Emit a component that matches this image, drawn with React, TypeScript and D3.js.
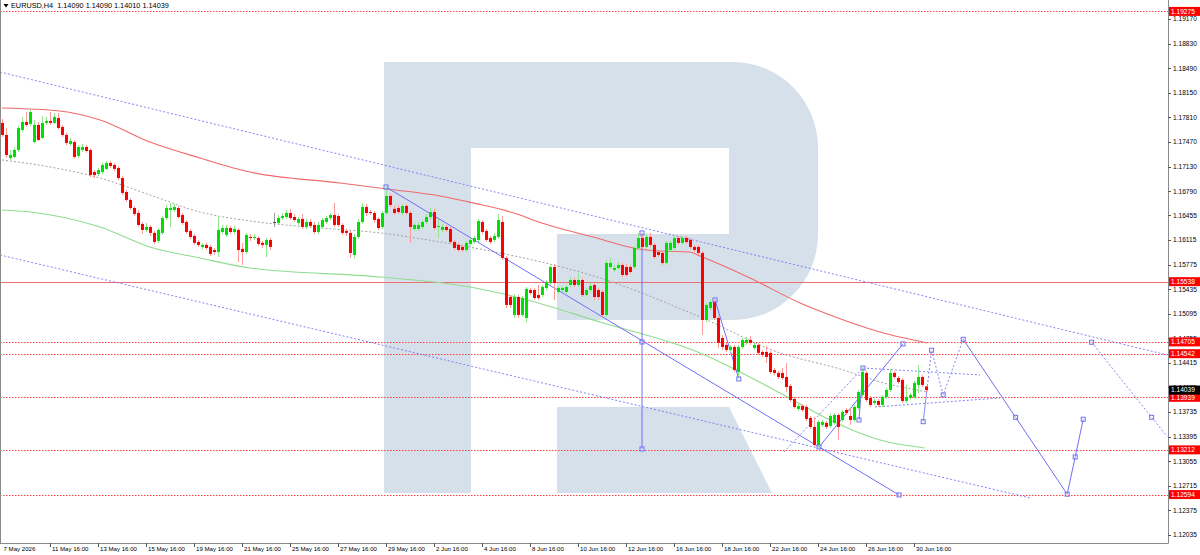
import React from "react";
import * as d3 from "d3";

// ---------- DATA ----------
const symbol = "EURUSD,H4";

const opens = [
1.17733,1.17567,1.17248,1.17262,1.17359,1.17636,1.17746,1.17719,1.17469,1.17705,
1.17525,1.17733,1.17760,1.17733,1.17801,1.17677,1.17567,1.17442,1.17469,1.17276,
1.17359,1.17400,1.17359,1.17054,1.17027,1.17054,1.17097,1.17180,1.17152,1.17110,
1.16971,1.16778,1.16668,1.16557,1.16488,1.16336,1.16253,1.16294,1.16212,1.16101,
1.16212,1.16418,1.16529,1.16529,1.16557,1.16460,1.16363,1.16239,1.16170,1.16087,
1.16018,1.16046,1.16018,1.15976,1.15948,1.16225,1.16184,1.16280,1.16225,1.16253,
1.15991,1.15948,1.16156,1.16142,1.16142,1.16074,1.16046,1.16115,1.16363,1.16350,
1.16418,1.16432,1.16488,1.16432,1.16350,1.16405,1.16294,1.16363,1.16322,1.16225,
1.16294,1.16363,1.16418,1.16460,1.16446,1.16322,1.16239,1.16212,1.15907,1.16156,
1.16363,1.16571,1.16501,1.16488,1.16405,1.16294,1.16488,1.16723,1.16544,1.16557,
1.16488,1.16585,1.16488,1.16267,1.16267,1.16294,1.16363,1.16432,1.16501,1.16294,
1.16253,1.16294,1.16267,1.16087,1.16046,1.16018,1.15976,1.16060,1.16087,1.16115,
1.16363,1.16239,1.16142,1.16115,1.16156,1.16363,1.15865,1.15326,1.15078,1.15326,
1.15078,1.15036,1.15423,1.15423,1.15354,1.15354,1.15450,1.15520,1.15741,1.15395,
1.15423,1.15395,1.15492,1.15561,1.15492,1.15561,1.15354,1.15423,1.15492,1.15423,
1.15395,1.15078,1.15741,1.15700,1.15727,1.15769,1.15741,1.15741,1.15741,1.16004,
1.16142,1.16018,1.16156,1.16046,1.15948,1.15935,1.15797,1.15976,1.16004,1.16142,
1.16074,1.16142,1.16115,1.16018,1.16018,1.15935,1.15008,1.15174,1.15257,1.15036,
1.14759,1.14663,1.14594,1.14635,1.14289,1.14635,1.14691,1.14732,1.14621,1.14663,
1.14566,1.14566,1.14553,1.14317,1.14276,1.14276,1.14220,1.14096,1.13917,1.13778,
1.13819,1.13805,1.13653,1.13529,1.13280,1.13557,1.13585,1.13543,1.13585,1.13695,
1.13626,1.13764,1.13681,1.13626,1.13791,1.13972,1.14276,1.13930,1.13861,1.13888,
1.13833,1.13944,1.14041,1.14276,1.14206,1.14179,1.13888,1.13930,1.13944,1.14110,
1.14220,1.14090,
];

const highs = [
1.17788,1.17663,1.17359,1.17400,1.17691,1.17815,1.17884,1.17912,1.17774,1.17746,
1.17829,1.17815,1.17884,1.17871,1.17871,1.17705,1.17595,1.17525,1.17497,1.17428,
1.17442,1.17428,1.17386,1.17082,1.17110,1.17180,1.17207,1.17207,1.17180,1.17138,
1.16999,1.16806,1.16695,1.16585,1.16529,1.16363,1.16350,1.16322,1.16239,1.16280,
1.16446,1.16599,1.16627,1.16613,1.16585,1.16488,1.16391,1.16267,1.16198,1.16115,
1.16074,1.16074,1.16046,1.16004,1.16446,1.16322,1.16322,1.16308,1.16308,1.16280,
1.16074,1.16212,1.16198,1.16198,1.16170,1.16101,1.16142,1.16142,1.16488,1.16460,
1.16488,1.16529,1.16544,1.16474,1.16432,1.16474,1.16405,1.16405,1.16363,1.16363,
1.16418,1.16446,1.16488,1.16627,1.16474,1.16350,1.16267,1.16239,1.16198,1.16405,
1.16627,1.16613,1.16529,1.16515,1.16432,1.16515,1.16861,1.16751,1.16585,1.16599,
1.16613,1.16613,1.16515,1.16350,1.16363,1.16391,1.16474,1.16557,1.16544,1.16405,
1.16336,1.16322,1.16294,1.16115,1.16074,1.16046,1.16101,1.16142,1.16170,1.16405,
1.16391,1.16267,1.16170,1.16212,1.16474,1.16446,1.15893,1.15354,1.15368,1.15354,
1.15340,1.15464,1.15450,1.15450,1.15492,1.15492,1.15561,1.15769,1.15783,1.15478,
1.15478,1.15492,1.15603,1.15589,1.15659,1.15589,1.15450,1.15520,1.15520,1.15450,
1.15423,1.15838,1.15865,1.15769,1.15810,1.15797,1.15783,1.15769,1.16032,1.16212,
1.16212,1.16212,1.16212,1.16074,1.15976,1.15962,1.16101,1.16101,1.16170,1.16170,
1.16170,1.16170,1.16142,1.16046,1.16046,1.15962,1.15244,1.15285,1.15299,1.15064,
1.14801,1.14691,1.14663,1.14663,1.14663,1.14759,1.14773,1.14787,1.14691,1.14691,
1.14594,1.14649,1.14580,1.14344,1.14303,1.14344,1.14414,1.14124,1.13944,1.13847,
1.13847,1.13833,1.13681,1.13667,1.13626,1.13626,1.13612,1.13709,1.13723,1.13723,
1.13764,1.13791,1.13791,1.13833,1.14041,1.14358,1.14303,1.13958,1.13917,1.13917,
1.13972,1.14068,1.14331,1.14303,1.14234,1.14206,1.14110,1.14000,1.14165,1.14386,
1.14248,1.14090,
];

const lows = [
1.17539,1.17248,1.17207,1.17248,1.17331,1.17608,1.17677,1.17691,1.17456,1.17483,
1.17512,1.17705,1.17705,1.17719,1.17636,1.17539,1.17428,1.17414,1.17235,1.17248,
1.17331,1.17318,1.16985,1.16971,1.16999,1.17027,1.17082,1.17110,1.17068,1.16944,
1.16737,1.16640,1.16529,1.16446,1.16294,1.16198,1.16225,1.16170,1.16060,1.16074,
1.16184,1.16391,1.16294,1.16501,1.16405,1.16322,1.16198,1.16129,1.16046,1.16018,
1.15991,1.15976,1.15893,1.15907,1.15879,1.16198,1.16156,1.16198,1.16198,1.15810,
1.15769,1.15921,1.16101,1.16115,1.16032,1.16004,1.15879,1.15976,1.16294,1.16322,
1.16391,1.16405,1.16391,1.16363,1.16322,1.16267,1.16267,1.16280,1.16198,1.16198,
1.16267,1.16336,1.16391,1.16294,1.16294,1.16184,1.16170,1.15865,1.15865,1.16129,
1.16336,1.16446,1.16460,1.16350,1.16253,1.16267,1.16460,1.16571,1.16460,1.16474,
1.16460,1.16460,1.16074,1.16239,1.16239,1.16267,1.16336,1.16405,1.16253,1.16142,
1.16225,1.16225,1.16060,1.15976,1.15948,1.15948,1.15948,1.16032,1.16060,1.16087,
1.16198,1.16087,1.16060,1.16087,1.16129,1.15838,1.15174,1.15174,1.15036,1.15036,
1.15050,1.14980,1.15354,1.15285,1.15285,1.15326,1.15423,1.15492,1.15285,1.15368,
1.15395,1.15368,1.15464,1.15464,1.15464,1.15326,1.15326,1.15395,1.15285,1.15285,
1.15050,1.15050,1.15714,1.15672,1.15700,1.15603,1.15603,1.15645,1.15714,1.15976,
1.15991,1.15991,1.16018,1.15852,1.15879,1.15769,1.15769,1.15948,1.15976,1.16046,
1.16046,1.16060,1.15991,1.15948,1.15907,1.14801,1.14980,1.15147,1.15008,1.14621,
1.14594,1.14566,1.14566,1.14289,1.14193,1.14608,1.14663,1.14663,1.14594,1.14525,
1.14497,1.14414,1.14262,1.14248,1.14193,1.14179,1.14013,1.13874,1.13778,1.13750,
1.13736,1.13612,1.13502,1.13252,1.13252,1.13529,1.13502,1.13515,1.13557,1.13349,
1.13598,1.13695,1.13557,1.13598,1.13764,1.13944,1.13874,1.13805,1.13833,1.13805,
1.13805,1.13917,1.14013,1.14193,1.14124,1.13861,1.13861,1.13902,1.13917,1.14000,
1.14082,1.14010,
];

const closes = [
1.17567,1.17290,1.17290,1.17359,1.17663,1.17746,1.17705,1.17884,1.17705,1.17497,
1.17733,1.17760,1.17733,1.17815,1.17663,1.17567,1.17456,1.17483,1.17262,1.17400,
1.17400,1.17345,1.17013,1.17013,1.17082,1.17152,1.17180,1.17138,1.17097,1.16971,
1.16765,1.16668,1.16557,1.16474,1.16322,1.16253,1.16294,1.16212,1.16087,1.16253,
1.16418,1.16557,1.16557,1.16571,1.16432,1.16350,1.16225,1.16156,1.16074,1.16046,
1.16046,1.16004,1.15921,1.15948,1.16253,1.16280,1.16280,1.16225,1.16267,1.15976,
1.15948,1.16184,1.16142,1.16156,1.16060,1.16046,1.16115,1.16018,1.16363,1.16418,
1.16446,1.16488,1.16418,1.16391,1.16405,1.16294,1.16363,1.16308,1.16225,1.16322,
1.16391,1.16418,1.16460,1.16322,1.16322,1.16212,1.16212,1.15935,1.16156,1.16363,
1.16571,1.16488,1.16488,1.16391,1.16280,1.16488,1.16723,1.16599,1.16488,1.16501,
1.16585,1.16488,1.16294,1.16322,1.16322,1.16363,1.16432,1.16501,1.16280,1.16308,
1.16294,1.16253,1.16087,1.16004,1.15976,1.15976,1.16074,1.16115,1.16142,1.16377,
1.16225,1.16115,1.16087,1.16170,1.16391,1.15865,1.15216,1.15216,1.15326,1.15078,
1.15312,1.15437,1.15382,1.15312,1.15312,1.15464,1.15533,1.15741,1.15520,1.15450,
1.15450,1.15464,1.15561,1.15492,1.15561,1.15354,1.15423,1.15478,1.15326,1.15326,
1.15078,1.15797,1.15797,1.15727,1.15769,1.15631,1.15631,1.15672,1.16004,1.16142,
1.16018,1.16156,1.16046,1.15879,1.15907,1.15797,1.16074,1.16074,1.16142,1.16074,
1.16142,1.16087,1.16018,1.15976,1.15935,1.15008,1.15216,1.15257,1.15036,1.14691,
1.14635,1.14594,1.14635,1.14317,1.14635,1.14732,1.14732,1.14691,1.14663,1.14553,
1.14525,1.14497,1.14289,1.14276,1.14220,1.14206,1.14082,1.13902,1.13805,1.13819,
1.13764,1.13640,1.13529,1.13280,1.13598,1.13598,1.13529,1.13681,1.13695,1.13529,
1.13736,1.13723,1.13626,1.13805,1.14013,1.14289,1.13902,1.13833,1.13888,1.13833,
1.13944,1.14041,1.14276,1.14220,1.14151,1.13888,1.13944,1.13972,1.14138,1.14220,
1.14110,1.14039,
];

const timeLabels = [
  "7 May 2026", "11 May 16:00", "13 May 16:00", "15 May 16:00", "19 May 16:00",
  "21 May 16:00", "25 May 16:00", "27 May 16:00", "29 May 16:00", "2 Jun 16:00",
  "4 Jun 16:00", "8 Jun 16:00", "10 Jun 16:00", "12 Jun 16:00", "16 Jun 16:00",
  "18 Jun 16:00", "22 Jun 16:00", "24 Jun 16:00", "26 Jun 16:00", "30 Jun 16:00",
];
const timeLabelBars = [0, 12, 24, 36, 48, 60, 72, 84, 96, 108, 120, 132, 144, 156, 168, 180, 192, 204, 216, 228];

const priceTicks = [
  1.19170, 1.18830, 1.18490, 1.18150, 1.17810, 1.17470, 1.17130, 1.16790, 1.16455, 1.16115, 1.15775,
  1.15435, 1.15095, 1.14755, 1.14415, 1.14075, 1.13735, 1.13395, 1.13055, 1.12715, 1.12375, 1.12035,
];

const solidLevel = 1.15538;
const dottedLevels = [1.19275, 1.14705, 1.14542, 1.13939, 1.13212, 1.12594];
const currentPrice = 1.14039;

// moving averages: [bar index, price]
const maRed: [number, number][] = [
  [0, 1.17939], [14.5, 1.17898], [24.5, 1.17774], [37, 1.17469], [49.5, 1.17248], [62, 1.17054],
  [84.5, 1.16903], [96.25, 1.1682], [109.5, 1.16723], [117.75, 1.16627], [129.5, 1.1646],
  [132.75, 1.16391], [149.5, 1.16129], [157.75, 1.16004], [164.5, 1.15962], [172, 1.15948],
  [174.5, 1.15893], [187, 1.15589], [199.5, 1.15244], [207, 1.15078], [219.5, 1.14842], [231.25, 1.14691],
];
const maGreen: [number, number][] = [
  [0, 1.16529], [7, 1.16501], [24.5, 1.16294], [37, 1.16018], [49.5, 1.15865], [62, 1.15727],
  [94.5, 1.15603], [117, 1.15464], [129.5, 1.15312], [149.5, 1.1498], [174.5, 1.14553],
  [194.5, 1.14], [207, 1.13626], [219.5, 1.13349], [230.75, 1.13238],
];
const maGray: [number, number][] = [
  [0, 1.17221], [12, 1.17124], [24.5, 1.16971], [37, 1.16737], [49.5, 1.16501], [62, 1.16377],
  [76.25, 1.16294], [94.5, 1.16212], [109.5, 1.16087], [124.5, 1.15935], [149.5, 1.15589],
  [174.5, 1.1505], [194.5, 1.14553], [209.5, 1.14331], [219.5, 1.14151], [231.25, 1.14013],
];

// analysis drawings: [bar index, price]
const dottedBlue: [number, number][][] = [
  [[-0.5, 1.18437], [291.25, 1.14525]],
  [[-0.5, 1.15907], [257, 1.12547]],
  [[195.5, 1.13183], [215.25, 1.14344]],
  [[215.25, 1.14344], [244.5, 1.14248]],
  [[218.25, 1.13805], [249.5, 1.1393]],
  [[231.25, 1.14041], [230.3, 1.13602], [232.4, 1.1459], [235.3, 1.13972], [240.3, 1.14741]],
  [[272.4, 1.147], [287.4, 1.13663], [291.25, 1.13399]],
];
const solidBlue: [number, number][][] = [
  [[96, 1.16847], [224.25, 1.12589]],
  [[160, 1.16212], [160, 1.13225]],
  [[178.25, 1.15285], [184.2, 1.14193]],
  [[204.25, 1.13252], [225.25, 1.14677]],
  [[214.25, 1.13626], [215.25, 1.14344]],
  [[240.3, 1.14741], [253.4, 1.13663], [266.3, 1.12599], [268.3, 1.13114], [270.3, 1.13635]],
];
const markers: [number, number][] = [
  [96, 1.16847], [224.25, 1.12589], [160, 1.16212], [160, 1.14704], [160, 1.13225],
  [178.25, 1.15285], [184.2, 1.14193], [204.25, 1.13252], [225.25, 1.14677],
  [214.25, 1.13626], [215.25, 1.14344], [230.3, 1.13602], [232.4, 1.1459], [235.3, 1.13972],
  [240.3, 1.14741], [253.4, 1.13663], [266.3, 1.12599], [268.3, 1.13114], [270.3, 1.13635],
  [272.4, 1.147], [287.4, 1.13663],
];

// ---------- COMPONENT ----------
export default function App() {
  const W = 1200;
  const H = 555;
  const plotR = 1168;
  const plotB = 543;
  const font = "'Liberation Sans', Arial, sans-serif";
  const fsPrice = 6.6;
  const fsTime = 6.1;
  const fsHead = 7.3;

  const x = d3.scaleLinear().domain([0, 231]).range([2, 926]);
  const y = d3.scaleLinear().domain([1.12035, 1.1917]).range([535, 19]);
  const ys = (p: number) => Math.round(y(p)) + 0.5;

  const line = d3
    .line<[number, number]>()
    .x((d) => x(d[0]))
    .y((d) => y(d[1]));
  const curve = d3
    .line<[number, number]>()
    .x((d) => x(d[0]))
    .y((d) => y(d[1]))
    .curve(d3.curveMonotoneX);

  const blue = "#6f6ff6";
  const logo = "#d6e0eb";

  const candles = closes.map((c, i) => {
    const o = opens[i];
    const cx = Math.round(x(i));
    const up = c > o;
    const doji = c === o;
    const body = doji ? "#555" : up ? "#00e000" : "#ff0000";
    const wick = doji ? "#999" : up ? "#8fe68f" : "#ff9a9a";
    const yTop = y(Math.max(o, c));
    const yBot = y(Math.min(o, c));
    return (
      <g key={i}>
        <line x1={cx + 0.5} x2={cx + 0.5} y1={y(highs[i])} y2={y(lows[i])} stroke={wick} strokeWidth={1} />
        <rect x={cx - 1} y={yTop} width={3} height={Math.max(1, yBot - yTop)} fill={body} />
      </g>
    );
  });

  const labelBox = (p: number, bg: string, key: string) => {
    const yy = y(p);
    return (
      <g key={key}>
        <rect x={plotR + 1} y={yy - 4.5} width={W - plotR - 1} height={9} fill={bg} />
        <text x={plotR + 3} y={yy + 2.4} fontSize={fsPrice} fill="#fff" fontFamily={font}>
          {p.toFixed(5)}
        </text>
      </g>
    );
  };

  return (
    <div style={{ position: "fixed", left: 0, top: 0, width: W, height: H, background: "#fff" }}>
      <svg width={W} height={H} style={{ display: "block" }}>
        <defs>
          <clipPath id="plotClip">
            <rect x={1} y={0} width={plotR - 1} height={plotB} />
          </clipPath>
        </defs>
        <rect x={0} y={0} width={W} height={H} fill="#fff" />
        <g clipPath="url(#plotClip)">
          {/* watermark logo */}
          <path
            d="M384,62 H733 A85,86 0 0 1 818,148 V234 A85,86 0 0 1 733,320 H557 V234 H729 V148 H471 V493 H384 Z"
            fill={logo}
          />
          <path d="M557,407 H729 L772,493 H557 Z" fill={logo} />

          {/* horizontal levels */}
          {dottedLevels.map((p, i) => (
            <line key={"lv" + i} x1={0} x2={plotR} y1={ys(p)} y2={ys(p)} stroke="#ff4040" strokeWidth={1} strokeDasharray="1.5,1.5" />
          ))}
          <line x1={0} x2={plotR} y1={ys(solidLevel)} y2={ys(solidLevel)} stroke="#ee6f6f" strokeWidth={1} />

          {/* moving averages */}
          <path d={curve(maRed) || ""} fill="none" stroke="#f06a6a" strokeWidth={1.1} />
          <path d={curve(maGreen) || ""} fill="none" stroke="#8fdc8f" strokeWidth={1.1} />
          <path d={curve(maGray) || ""} fill="none" stroke="#a3a3a3" strokeWidth={1} strokeDasharray="2,2" />

          {/* blue drawings */}
          {dottedBlue.map((pts, i) => (
            <path key={"db" + i} d={line(pts) || ""} fill="none" stroke={blue} strokeWidth={1} strokeDasharray="2,2" opacity={0.85} />
          ))}
          {solidBlue.map((pts, i) => (
            <path key={"sb" + i} d={line(pts) || ""} fill="none" stroke={blue} strokeWidth={1} />
          ))}

          {/* candles */}
          {candles}

          {/* markers */}
          {markers.map((m, i) => (
            <rect key={"mk" + i} x={x(m[0]) - 2} y={y(m[1]) - 2} width={4} height={4} fill="#fff" fillOpacity={0.3} stroke={blue} strokeWidth={1} />
          ))}
        </g>

        {/* frame */}
        <line x1={0.5} x2={0.5} y1={0} y2={plotB} stroke="#8a8a8a" />
        <line x1={0} x2={plotR + 0.5} y1={plotB + 0.5} y2={plotB + 0.5} stroke="#8a8a8a" />
        <line x1={plotR + 0.5} x2={plotR + 0.5} y1={0} y2={plotB + 0.5} stroke="#8a8a8a" />

        {/* price axis */}
        {priceTicks.map((p, i) => (
          <g key={"pt" + i}>
            <line x1={plotR} x2={plotR + 3} y1={ys(p)} y2={ys(p)} stroke="#555" />
            <text x={plotR + 5} y={y(p) + 2.4} fontSize={fsPrice} fill="#000" fontFamily={font}>
              {p.toFixed(5)}
            </text>
          </g>
        ))}
        {dottedLevels.map((p, i) => labelBox(p, "#ff0000", "lb" + i))}
        {labelBox(solidLevel, "#ff0000", "lbs")}
        {labelBox(currentPrice, "#000000", "lbc")}

        {/* time axis */}
        {timeLabelBars.map((b, i) => {
          const tx = Math.round(x(b)) + 0.5;
          return (
            <g key={"tl" + i}>
              {i > 0 && <line x1={tx} x2={tx} y1={plotB} y2={plotB + 4} stroke="#555" />}
              <text x={tx + (i > 0 ? 1.5 : 1)} y={plotB + 7.8} fontSize={fsTime} fill="#000" fontFamily={font}>
                {timeLabels[i]}
              </text>
            </g>
          );
        })}

        {/* header */}
        <path d="M3.5,4 L8.5,4 L6,7.5 Z" fill="#000" />
        <text x={11} y={8.3} fontSize={fsHead} fill="#000" fontFamily={font} style={{ whiteSpace: "pre" }}>
          {`${symbol}  ${opens[231].toFixed(5)} ${highs[231].toFixed(5)} ${lows[231].toFixed(5)} ${closes[231].toFixed(5)}`}
        </text>
      </svg>
    </div>
  );
}
